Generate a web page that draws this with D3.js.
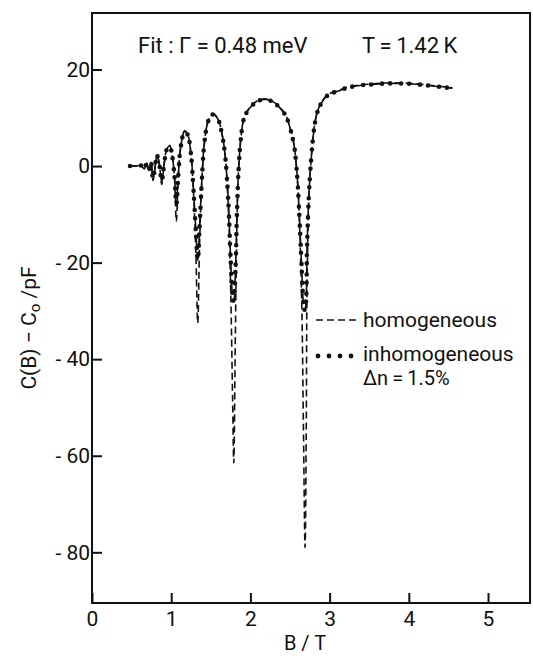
<!DOCTYPE html>
<html>
<head>
<meta charset="utf-8">
<script src="https://cdn.jsdelivr.net/npm/d3@7.9.0/dist/d3.min.js"></script>
<style>
  body { margin: 0; background: #fff; }
  svg text { font-family: Roboto, "DejaVu Sans", sans-serif; fill: #111; }
</style>
</head>
<body>
<svg id="chart" width="533" height="658"></svg>
<script>
// magnetic field B / T
const bField = [
  0.48, 0.55, 0.62, 0.66, 0.69, 0.72, 0.745, 0.77, 0.795, 0.82, 0.85, 0.88, 0.91, 0.945, 0.98,
  1.01, 1.04, 1.065, 1.09, 1.12, 1.17, 1.21, 1.25, 1.28, 1.31, 1.335, 1.36, 1.39, 1.42,
  1.47, 1.53, 1.59, 1.64, 1.68, 1.72, 1.75, 1.775, 1.79, 1.81, 1.83, 1.85, 1.88, 1.92,
  2.0, 2.1, 2.2, 2.3, 2.38, 2.45, 2.5, 2.55, 2.59, 2.62, 2.65, 2.67, 2.69, 2.705, 2.715,
  2.74, 2.77, 2.81, 2.85, 2.93, 3.0, 3.1, 3.22, 3.38, 3.53, 3.7, 3.9, 4.05, 4.23, 4.4, 4.55
];
// C(B) - C0 / pF, homogeneous fit
const homogeneous = [
  0, 0, 0.1, -0.6, 0.6, -1.0, 0.8, -3.0, -0.5, 2.3, 0.5, -3.8, 0.3, 3.6, 4.3,
  2.5, -2, -11.5, -2, 4, 7.3, 6.5, 2.5, -5, -17, -32.5, -15, -2, 5,
  9.5, 10.8, 9.8, 6.8, 2.5, -8, -25, -48, -61.5, -35, -12, -1, 5.8, 10,
  12.3, 13.6, 13.9, 13.2, 12, 10.4, 8, 4.5, -2, -12, -30, -55, -79, -55, -25,
  -6, 2, 8.5, 11.5, 14, 15, 15.6, 16.3, 16.8, 17, 17.2, 17.2, 17.1, 16.8, 16.5, 16.2
];
// C(B) - C0 / pF, inhomogeneous fit (dn = 1.5%)
const inhomogeneous = [
  0, 0, 0.1, -0.5, 0.5, -0.9, 0.7, -2.5, -0.4, 2.2, 0.4, -3.2, 0.3, 3.5, 4.2,
  2.4, -1.8, -8, -1.8, 3.9, 7.2, 6.4, 2.4, -4.5, -13, -19.5, -12, -2, 4.9,
  9.4, 10.7, 9.7, 6.7, 2.3, -7, -19, -27, -28, -22, -10, -1, 5.7, 9.9,
  12.2, 13.5, 13.8, 13.1, 11.9, 10.3, 7.9, 4.4, -2, -11, -22, -28.5, -30, -27, -17,
  -5.5, 2, 8.4, 11.4, 13.9, 14.9, 15.5, 16.2, 16.7, 16.9, 17.1, 17.1, 17.0, 16.7, 16.4, 16.1
];
const xTicks = [0, 1, 2, 3, 4, 5];
const yTicks = [20, 0, -20, -40, -60, -80];

const svg = d3.select('#chart');
const plotLeft = 92, plotRight = 530, plotTop = 13, plotBottom = 603;

const x = d3.scaleLinear().domain([0, 5.53]).range([plotLeft, plotRight]);
const y = d3.scaleLinear().domain([-90.5, 31.7]).range([plotBottom, plotTop]);

// frame
svg.append('rect')
  .attr('x', plotLeft).attr('y', plotTop)
  .attr('width', plotRight - plotLeft).attr('height', plotBottom - plotTop)
  .attr('fill', 'none').attr('stroke', '#111').attr('stroke-width', 2);

// axes with inward ticks
const xAxis = svg.append('g')
  .attr('transform', `translate(0,${plotBottom})`)
  .call(d3.axisBottom(x).tickValues(xTicks).tickSize(-10).tickPadding(8).tickFormat(d3.format('d')));
const yAxis = svg.append('g')
  .attr('transform', `translate(${plotLeft},0)`)
  .call(d3.axisLeft(y).tickValues(yTicks).tickSize(-10).tickPadding(2)
    .tickFormat((d) => d < 0 ? '- ' + Math.abs(d) : d));

[xAxis, yAxis].forEach((g) => {
  g.select('.domain').remove();
  g.selectAll('.tick line').attr('stroke', '#111').attr('stroke-width', 2);
  g.selectAll('.tick text').attr('font-size', 21).attr('fill', '#111');
});

// curves
const homData = bField.map((b, i) => [b, homogeneous[i]]);
const inhData = bField.map((b, i) => [b, inhomogeneous[i]]);
const line = d3.line()
  .x((d) => x(d[0]))
  .y((d) => y(d[1]))
  .curve(d3.curveCatmullRom.alpha(0.5));

svg.append('path')
  .attr('d', line(homData))
  .attr('fill', 'none')
  .attr('stroke', '#111')
  .attr('stroke-width', 1.6)
  .attr('stroke-dasharray', '7 4');

// inhomogeneous: short segments with dots at both ends
svg.append('path')
  .attr('d', line(inhData))
  .attr('fill', 'none')
  .attr('stroke', '#111')
  .attr('stroke-width', 1.6)
  .attr('stroke-dasharray', '11 8');
svg.append('path')
  .attr('d', line(inhData))
  .attr('fill', 'none')
  .attr('stroke', '#111')
  .attr('stroke-width', 4.6)
  .attr('stroke-linecap', 'round')
  .attr('stroke-dasharray', '0 11 0 8');

// title texts
svg.append('text').attr('x', 138).attr('y', 53).attr('font-size', 22)
  .text('Fit : Γ = 0.48 meV');
svg.append('text').attr('x', 362).attr('y', 53).attr('font-size', 22)
  .text('T\u2009=\u20091.42\u2009K');

// legend
svg.append('line')
  .attr('x1', 316).attr('x2', 358).attr('y1', 320).attr('y2', 320)
  .attr('stroke', '#111').attr('stroke-width', 1.6).attr('stroke-dasharray', '7 4');
svg.append('text').attr('x', 363).attr('y', 327).attr('font-size', 21).text('homogeneous');

svg.selectAll('circle.leg')
  .data([0, 1, 2, 3])
  .enter()
  .append('circle')
  .attr('cx', (d) => 318 + d * 11)
  .attr('cy', 356)
  .attr('r', 2.4)
  .attr('fill', '#111');
svg.append('text').attr('x', 363).attr('y', 361).attr('font-size', 21).text('inhomogeneous');
svg.append('text').attr('x', 363).attr('y', 385).attr('font-size', 20).text('Δn\u2009=\u20091.5%');

// axis titles
svg.append('text')
  .attr('x', 305).attr('y', 650).attr('font-size', 20).attr('text-anchor', 'middle')
  .text('B / T');
svg.append('text')
  .attr('transform', 'translate(36,328) rotate(-90)')
  .attr('font-size', 21).attr('text-anchor', 'middle')
  .html('C(B) − C<tspan baseline-shift="-25%" font-size="15">o</tspan> /pF');
</script>
</body>
</html>
